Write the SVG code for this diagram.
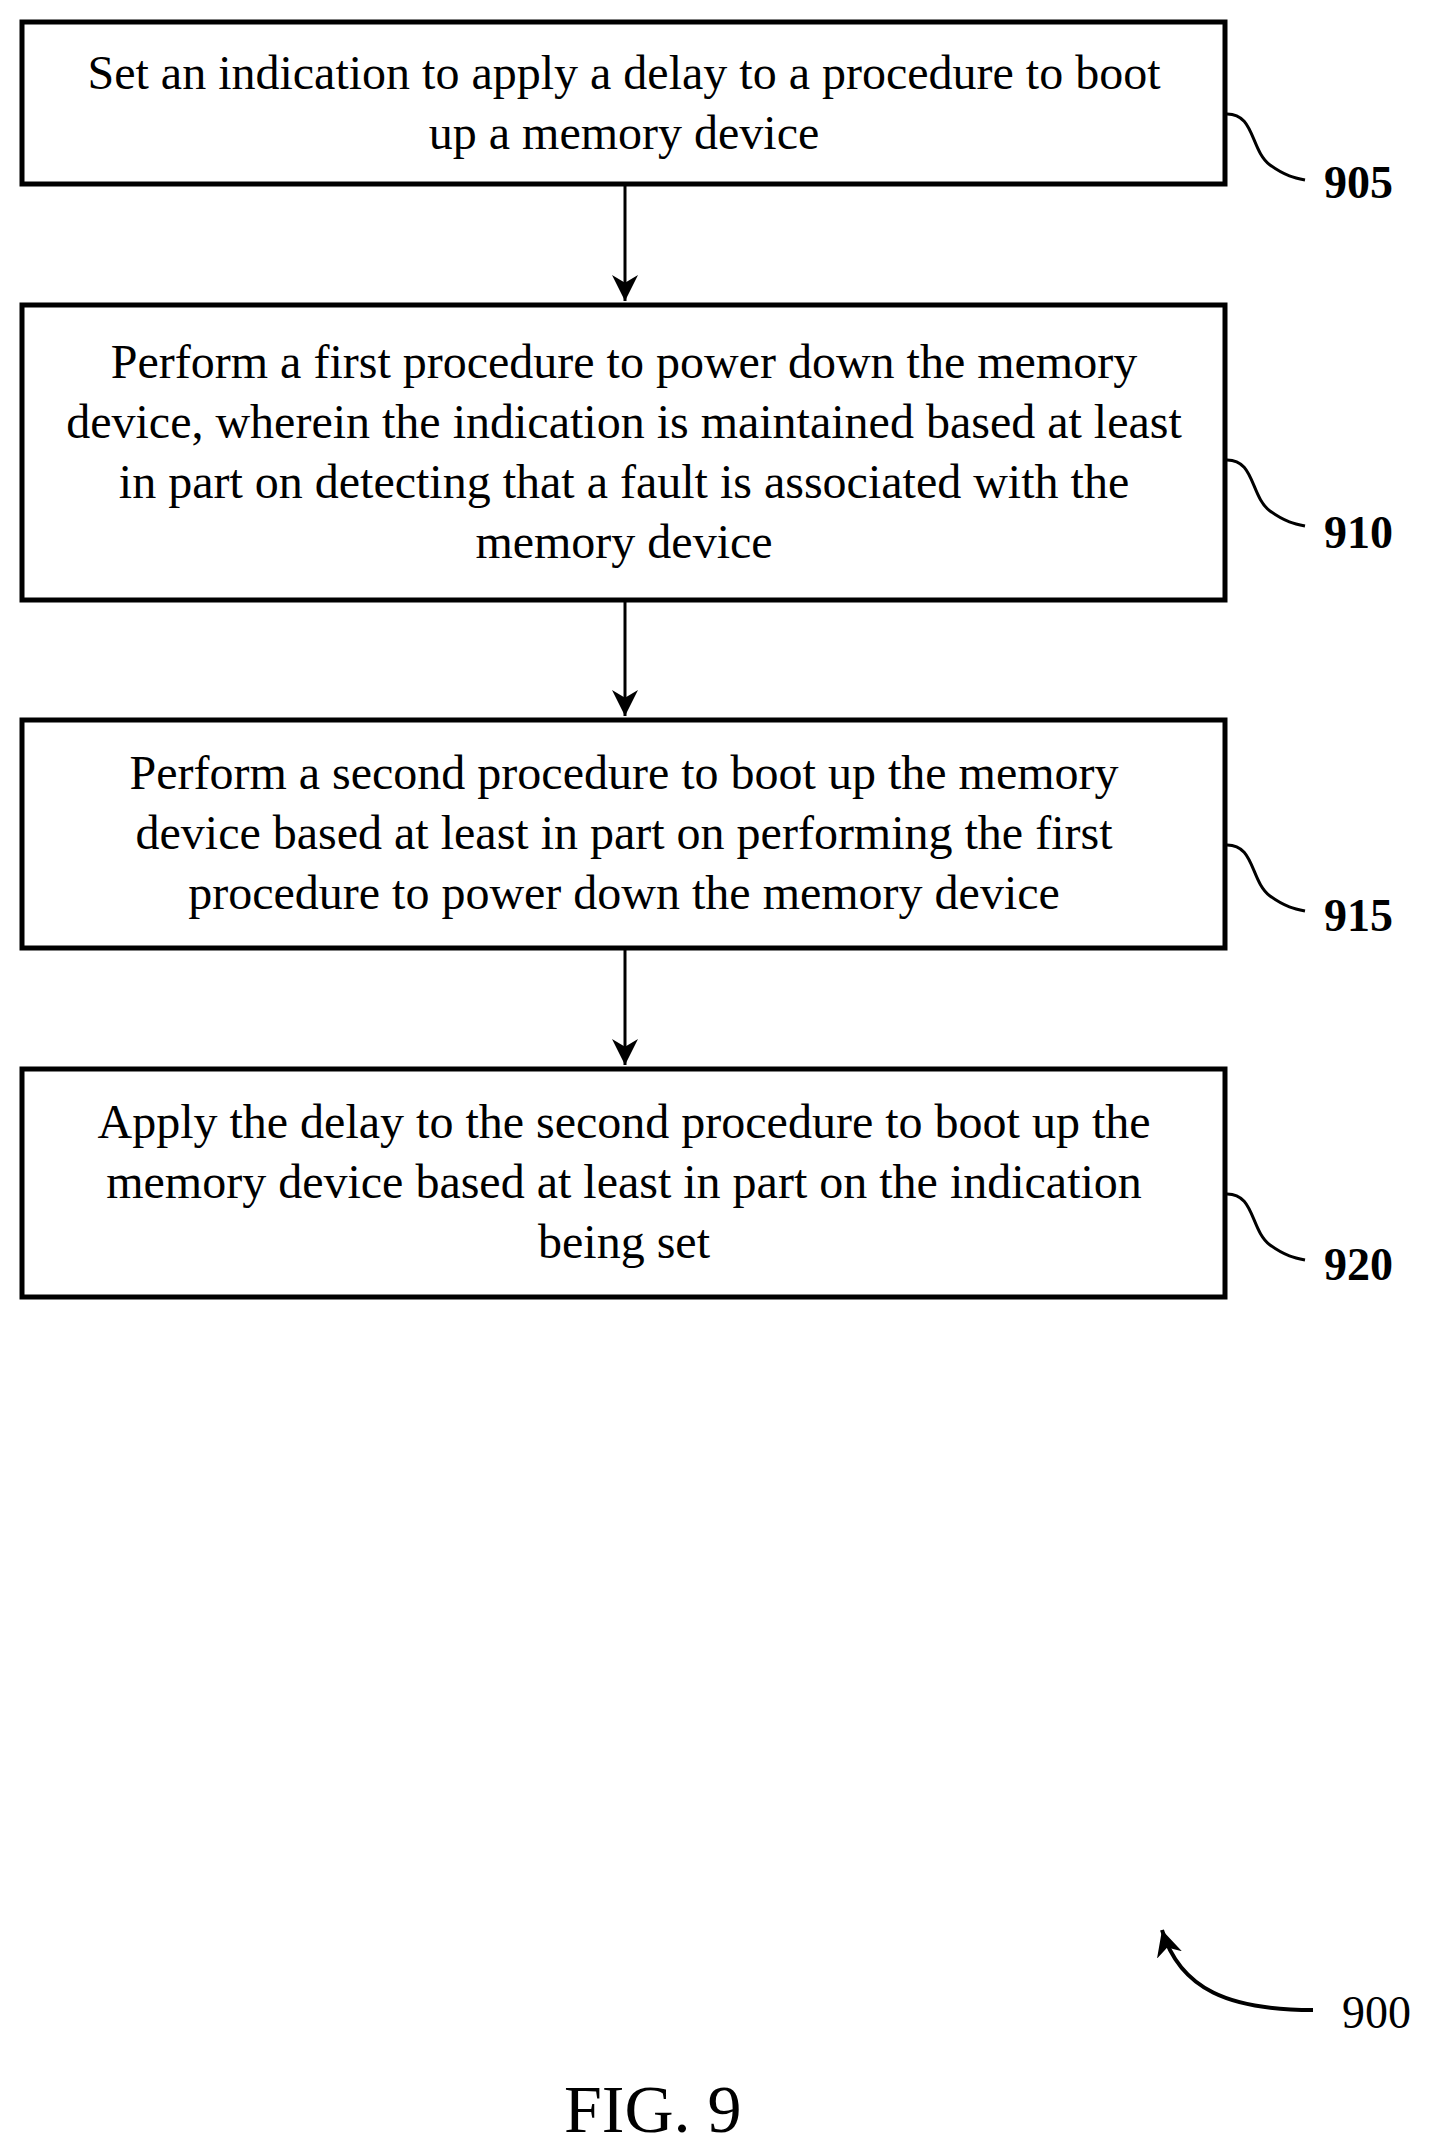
<svg xmlns="http://www.w3.org/2000/svg" width="1445" height="2150" viewBox="0 0 1445 2150">
<style>
.box{fill:#fff;stroke:#000;stroke-width:5}
.t{font-family:"Liberation Serif","Times New Roman",serif;font-size:48px;fill:#000;text-anchor:middle}
.n{font-family:"Liberation Serif","Times New Roman",serif;font-size:46px;fill:#000}
.b{font-weight:bold}
.c{fill:none;stroke:#000;stroke-width:3}
</style>
<defs>
<marker id="ah2" markerWidth="26" markerHeight="26" refX="10" refY="5" orient="auto" markerUnits="userSpaceOnUse" viewBox="0 0 10 10"><path d="M0,0 L10,5 L0,10 L3,5 z" fill="#000"/></marker></defs>
<rect width="1445" height="2150" fill="#fff"/>
<g id="n905"><rect class="box" x="22" y="22" width="1203" height="162"/>
<text class="t" x="624" y="89">Set an indication to apply a delay to a procedure to boot</text>
<text class="t" x="624" y="149">up a memory device</text>
<path class="c" d="M1225,114 C1255,112 1250,150 1270,165 C1285,176 1295,178 1305,180"/>
<text class="n b" x="1324" y="198">905</text></g>
<g id="n910"><rect class="box" x="22" y="305" width="1203" height="295"/>
<text class="t" x="624" y="378">Perform a first procedure to power down the memory</text>
<text class="t" x="624" y="438">device, wherein the indication is maintained based at least</text>
<text class="t" x="624" y="498">in part on detecting that a fault is associated with the</text>
<text class="t" x="624" y="558">memory device</text>
<path class="c" d="M1225,460 C1255,458 1250,496 1270,511 C1285,522 1295,524 1305,526"/>
<text class="n b" x="1324" y="548">910</text></g>
<g id="n915"><rect class="box" x="22" y="720" width="1203" height="228"/>
<text class="t" x="624" y="789">Perform a second procedure to boot up the memory</text>
<text class="t" x="624" y="849">device based at least in part on performing the first</text>
<text class="t" x="624" y="909">procedure to power down the memory device</text>
<path class="c" d="M1225,845 C1255,843 1250,881 1270,896 C1285,907 1295,909 1305,911"/>
<text class="n b" x="1324" y="931">915</text></g>
<g id="n920"><rect class="box" x="22" y="1069" width="1203" height="228"/>
<text class="t" x="624" y="1138">Apply the delay to the second procedure to boot up the</text>
<text class="t" x="624" y="1198">memory device based at least in part on the indication</text>
<text class="t" x="624" y="1258">being set</text>
<path class="c" d="M1225,1194 C1255,1192 1250,1230 1270,1245 C1285,1256 1295,1258 1305,1260"/>
<text class="n b" x="1324" y="1280">920</text></g>
<g id="connectors">
<line class="c" x1="625" y1="186" x2="625" y2="301" marker-end="url(#ah2)"/>
<line class="c" x1="625" y1="602" x2="625" y2="716" marker-end="url(#ah2)"/>
<line class="c" x1="625" y1="950" x2="625" y2="1065" marker-end="url(#ah2)"/>
<path d="M1313,2010 C1230,2010 1180,1990 1162,1930" fill="none" stroke="#000" stroke-width="4" marker-end="url(#ah2)"/>
</g>
<text class="n" x="1342" y="2028">900</text>
<text class="n" x="564" y="2132" style="font-size:68px">FIG. 9</text>
</svg>
